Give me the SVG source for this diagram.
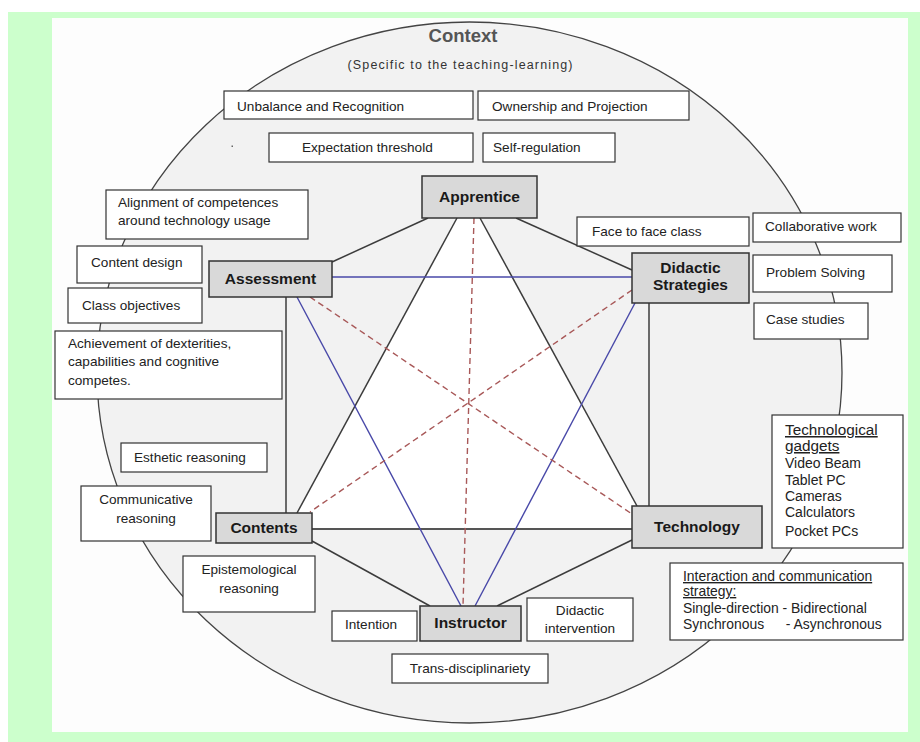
<svg xmlns="http://www.w3.org/2000/svg" width="920" height="742" viewBox="0 0 920 742">
<style>
text{font-family:"Liberation Sans",Arial,sans-serif;fill:#222;}
.box{fill:#fff;stroke:#333;stroke-width:1.2;}
.node{fill:#d9d9d9;stroke:#333;stroke-width:1.5;}
.nt{font-size:15.5px;font-weight:bold;text-anchor:middle;fill:#1a1a1a;}
.t{font-size:13.6px;}
.tc{font-size:13.6px;text-anchor:middle;}
.blk{stroke:#3c3c3c;stroke-width:1.5;fill:none;}
.blu{stroke:#4848a8;stroke-width:1.4;fill:none;}
.red{stroke:#a85858;stroke-width:1.4;stroke-dasharray:6 4;fill:none;}
</style>
<rect x="0" y="0" width="920" height="742" fill="#fff"/>
<rect x="8" y="12" width="912" height="730" fill="#ccffcc"/>
<rect x="52" y="18" width="856" height="714" fill="#fdfdfd"/>
<ellipse cx="469.5" cy="372.5" rx="372.5" ry="350.5" fill="#f2f2f2" stroke="#444" stroke-width="1.3"/>
<polygon points="457,218 480,218 649,529 288,529" fill="#fff"/>
<rect x="231.5" y="145.5" width="1.5" height="1.5" fill="#666"/>

<g id="context">
<text x="463" y="42" text-anchor="middle" style="font-size:18.5px;font-weight:bold;fill:#555">Context</text>
<text x="460" y="69" text-anchor="middle" style="font-size:12.5px;fill:#333" textLength="225">(Specific to the teaching-learning)</text>
</g>

<g id="connectors">
<line class="blk" x1="428" y1="218" x2="332" y2="262"/>
<line class="blk" x1="516" y1="218" x2="632" y2="270"/>
<line class="blk" x1="457" y1="218" x2="297" y2="513"/>
<line class="blk" x1="480" y1="218" x2="637" y2="506"/>
<line class="blk" x1="286" y1="297" x2="286" y2="513"/>
<line class="blk" x1="649" y1="303" x2="649" y2="506"/>
<line x1="312" y1="529" x2="632" y2="529" stroke="#555" stroke-width="2"/>
<line class="blk" x1="312" y1="541" x2="430" y2="606"/>
<line class="blk" x1="632" y1="540" x2="497" y2="606"/>
<line class="blu" x1="332" y1="277" x2="632" y2="277"/>
<line class="blu" x1="297" y1="297" x2="461" y2="606"/>
<line class="blu" x1="635" y1="303" x2="475" y2="606"/>
<line class="red" x1="474" y1="218" x2="463" y2="606"/>
<line class="red" x1="310" y1="297" x2="632" y2="514"/>
<line class="red" x1="632" y1="290" x2="310" y2="512"/>
</g>

<g id="apprentice"><rect class="node" x="422" y="176" width="115" height="42"/><text class="nt" x="479.5" y="202">Apprentice</text></g>
<g id="assessment"><rect class="node" x="209" y="261" width="123" height="36"/><text class="nt" x="270.5" y="284">Assessment</text></g>
<g id="didactic-strategies"><rect class="node" x="632" y="253" width="117" height="50"/><text class="nt" x="690.5" y="273">Didactic</text><text class="nt" x="690.5" y="290">Strategies</text></g>
<g id="contents"><rect class="node" x="216" y="513" width="96" height="30"/><text class="nt" x="264" y="533">Contents</text></g>
<g id="technology"><rect class="node" x="632" y="506" width="130" height="42"/><text class="nt" x="697" y="532">Technology</text></g>
<g id="instructor"><rect class="node" x="420" y="606" width="101" height="35"/><text class="nt" x="470.5" y="628">Instructor</text></g>

<g id="unbalance"><rect class="box" x="224" y="91" width="249" height="28"/><text class="t" x="237" y="111">Unbalance and Recognition</text></g>
<g id="ownership"><rect class="box" x="478" y="91" width="211" height="29"/><text class="t" x="492" y="111">Ownership and Projection</text></g>
<g id="expectation"><rect class="box" x="269" y="133" width="204" height="29"/><text class="t" x="302" y="152">Expectation threshold</text></g>
<g id="self-regulation"><rect class="box" x="483" y="133" width="132" height="29"/><text class="t" x="493" y="152">Self-regulation</text></g>

<g id="alignment"><rect class="box" x="106" y="190" width="202" height="49"/><text class="t" x="118" y="207">Alignment of competences</text><text class="t" x="118" y="225">around technology usage</text></g>
<g id="content-design"><rect class="box" x="77" y="246" width="125" height="37"/><text class="t" x="91" y="267">Content design</text></g>
<g id="class-objectives"><rect class="box" x="68" y="288" width="134" height="35"/><text class="t" x="82" y="310">Class objectives</text></g>
<g id="achievement"><rect class="box" x="55" y="331" width="227" height="68"/><text class="t" x="68" y="348">Achievement of dexterities,</text><text class="t" x="68" y="366">capabilities and cognitive</text><text class="t" x="68" y="385">competes.</text></g>

<g id="esthetic"><rect class="box" x="121" y="443" width="146" height="29"/><text class="t" x="134" y="462">Esthetic reasoning</text></g>
<g id="communicative"><rect class="box" x="81" y="486" width="130" height="55"/><text class="tc" x="146" y="504">Communicative</text><text class="tc" x="146" y="523">reasoning</text></g>
<g id="epistemological"><rect class="box" x="183" y="556" width="132" height="56"/><text class="tc" x="249" y="574">Epistemological</text><text class="tc" x="249" y="593">reasoning</text></g>

<g id="face-to-face"><rect class="box" x="577" y="217" width="172" height="29"/><text class="t" x="592" y="236">Face to face class</text></g>
<g id="collaborative"><rect class="box" x="753" y="213" width="148" height="29"/><text class="t" x="765" y="231">Collaborative work</text></g>
<g id="problem-solving"><rect class="box" x="753" y="255" width="139" height="37"/><text class="t" x="766" y="277">Problem Solving</text></g>
<g id="case-studies"><rect class="box" x="754" y="303" width="114" height="36"/><text class="t" x="766" y="324">Case studies</text></g>

<g id="gadgets"><rect class="box" x="772" y="415" width="131" height="133"/>
<text x="785" y="435" style="font-size:15.3px" text-decoration="underline">Technological</text>
<text x="785" y="451" style="font-size:15.3px" text-decoration="underline">gadgets</text>
<text x="785" y="468" style="font-size:14px">Video Beam</text>
<text x="785" y="485" style="font-size:14px">Tablet PC</text>
<text x="785" y="501" style="font-size:14px">Cameras</text>
<text x="785" y="517" style="font-size:14px">Calculators</text>
<text x="785" y="536" style="font-size:14px">Pocket PCs</text>
</g>

<g id="interaction"><rect class="box" x="670" y="563" width="233" height="77"/>
<text x="683" y="581" style="font-size:13.9px" text-decoration="underline">Interaction and communication</text>
<text x="683" y="596" style="font-size:13.9px" text-decoration="underline">strategy:</text>
<text x="683" y="613" style="font-size:13.9px">Single-direction - Bidirectional</text>
<text y="629" style="font-size:13.9px"><tspan x="683">Synchronous</tspan><tspan x="782"> - Asynchronous</tspan></text>
</g>

<g id="intention"><rect class="box" x="332" y="611" width="85" height="30"/><text class="t" x="345" y="629">Intention</text></g>
<g id="didactic-intervention"><rect class="box" x="527" y="598" width="106" height="43"/><text class="tc" x="580" y="615">Didactic</text><text class="tc" x="580" y="633">intervention</text></g>
<g id="trans"><rect class="box" x="392" y="654" width="156" height="29"/><text class="tc" x="470" y="673">Trans-disciplinariety</text></g>
</svg>
